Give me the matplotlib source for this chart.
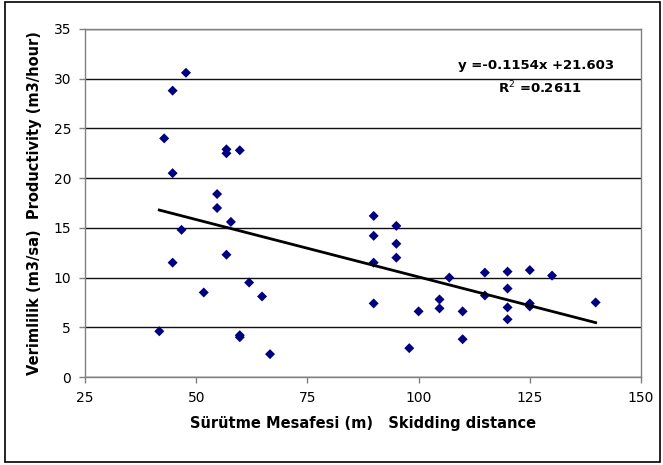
import matplotlib
matplotlib.use('Agg')
import matplotlib.pyplot as plt
from matplotlib.patches import Rectangle

# skidding distance (m) vs productivity (m3/hour)
distance = [47.7, 44.7, 42.8, 56.8, 56.8, 59.8, 44.7, 54.7, 54.7, 57.8,
            46.7, 44.7, 56.8, 61.9, 51.7, 64.8, 41.7, 59.8, 59.8, 66.6,
            89.9, 89.9, 89.9, 89.9, 95.0, 95.0, 95.0, 97.9, 100.0, 106.9,
            104.7, 104.7, 109.9, 109.9, 114.9, 114.9, 120.0, 120.0, 120.0, 120.0,
            125.0, 125.0, 125.0, 130.0, 139.8]
productivity = [30.6, 28.8, 24.0, 22.9, 22.5, 22.8, 20.5, 18.4, 17.0, 15.6,
                14.8, 11.5, 12.3, 9.5, 8.5, 8.1, 4.6, 4.2, 4.0, 2.3,
                16.2, 14.2, 11.5, 7.4, 15.2, 13.4, 12.0, 2.9, 6.6, 10.0,
                7.8, 6.9, 6.6, 3.8, 10.5, 8.2, 10.6, 8.9, 7.0, 5.8,
                10.75, 7.4, 7.1, 10.2, 7.5]

# linear trend as printed on the chart
SLOPE, INTERCEPT, R2 = -0.1154, 21.603, 0.2611

X_TICKS = [25, 50, 75, 100, 125, 150]
Y_TICKS = [0, 5, 10, 15, 20, 25, 30, 35]

W, H = 663, 465
fig = plt.figure(figsize=(W / 100, H / 100), dpi=100)
ax = fig.add_axes([85 / W, 1 - 377 / H, (641 - 85) / W, (377 - 29) / H])

ax.set_xlim(X_TICKS[0], X_TICKS[-1])
ax.set_ylim(Y_TICKS[0], Y_TICKS[-1])
ax.set_xticks(X_TICKS)
ax.set_yticks(Y_TICKS)
ax.tick_params(direction='out', length=4, width=1, color='#808080',
               labelsize=10, pad=6)
for s in ax.spines.values():
    s.set_color('#808080')
    s.set_linewidth(1)
ax.yaxis.grid(True, color='#101010', linewidth=1)
ax.set_axisbelow(True)

ax.scatter(distance, productivity, marker='D', s=26, color='#000080',
           edgecolors='none', zorder=3)

xs = [min(distance), max(distance)]
ax.plot(xs, [SLOPE * x + INTERCEPT for x in xs], color='black', lw=2, zorder=4)

fig.text(536 / W, 1 - 66 / H, f'y ={SLOPE}x +{INTERCEPT}', ha='center',
         va='center', fontsize=9.5, fontweight='bold')
fig.text(540 / W, 1 - 88 / H, f'R$^2$ ={R2}', ha='center', va='center',
         fontsize=9.5, fontweight='bold')

ax.set_xlabel('Sürütme Mesafesi (m)   Skidding distance', fontsize=10.5,
              fontweight='bold', labelpad=8)
ax.set_ylabel('Verimlilik (m3/sa)  Productivity (m3/hour)', fontsize=10.5,
              fontweight='bold', labelpad=8)

fig.patches.append(Rectangle((5 / W, 3 / H), (W - 8) / W, (H - 5) / H,
                             transform=fig.transFigure, fill=False,
                             edgecolor='black', linewidth=1.2))

fig.savefig('out.png', dpi=100)
